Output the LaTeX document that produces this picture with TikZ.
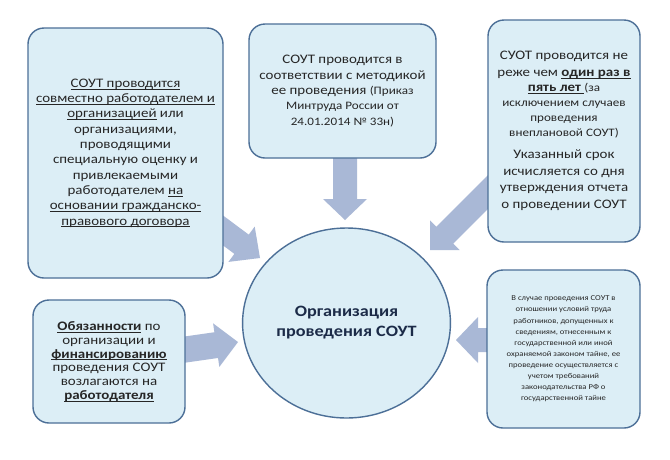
\documentclass[tikz,border=0pt]{standalone}
\usepackage{fontspec}
\setmainfont{Carlito}[FakeStretch=1.15]
\newcommand\ul[1]{\setbox0\hbox{#1}\rlap{\rule[-1.8pt]{\wd0}{0.6pt}}\box0\relax}
\usetikzlibrary{calc,shapes.geometric}
\definecolor{boxfill}{HTML}{DCEEF6}
\definecolor{boxline}{HTML}{4C6F97}
\definecolor{arrfill}{HTML}{A9B8D6}
\definecolor{txt}{HTML}{262626}
\definecolor{ctxt}{HTML}{1C2B48}
\newcommand\smt{\fontsize{11.4}{14}\selectfont}
\newcommand\fatarrow[5]{%
  \path ($(#2)!#5!(#1)$) coordinate (fab);
  \fill[arrfill] ($(#1)!#3!90:(#2)$) -- ($(fab)!#3!90:(#2)$) -- ($(fab)!#4!90:(#2)$) -- (#2)
    -- ($(fab)!#4!-90:(#2)$) -- ($(fab)!#3!-90:(#2)$) -- ($(#1)!#3!-90:(#2)$) -- cycle;}
\tikzset{
  box/.style={draw=boxline, line width=1.4pt, fill=boxfill, rounded corners=16pt,
    align=center, text=txt, inner sep=1pt, font=\fontsize{13}{15.3}\selectfont},
  hub/.style={ellipse, draw=boxline, line width=1.4pt, fill=boxfill, align=center,
    text=ctxt, font=\bfseries\fontsize{15.8}{20}\selectfont}
}
\begin{document}
\begin{tikzpicture}[x=1pt,y=-1pt]
\useasboundingbox (0,0) rectangle (670,459);
\fill[white] (0,0) rectangle (670,459);
% arrows
\coordinate (s1) at (205,217); \coordinate (t1) at (260,258);
\coordinate (s2) at (345,150); \coordinate (t2) at (345,220);
\coordinate (s3) at (500,180); \coordinate (t3) at (430,250);
\coordinate (s4) at (175,351); \coordinate (t4) at (238,342);
\coordinate (s5) at (495,340); \coordinate (t5) at (456,340);
\fatarrow{s1}{t1}{12pt}{22pt}{23pt}
\fatarrow{s2}{t2}{12pt}{22pt}{21pt}
\fatarrow{s3}{t3}{12pt}{21pt}{21pt}
\fatarrow{s4}{t4}{13pt}{22pt}{22pt}
\fatarrow{s5}{t5}{12pt}{23pt}{22pt}
% boxes
\node[box, minimum width=195pt, minimum height=250pt] (lt) at (125.5,153) {%
\ul{СОУТ проводится}\\
\ul{совместно работодателем и}\\
\ul{организацией} или\\
организациями,\\
проводящими\\
специальную оценку и\\
привлекаемыми\\
работодателем \ul{на}\\
\ul{основании гражданско-}\\
\ul{правового договора}};
\node[box, minimum width=187pt, minimum height=134pt] (tm) at (342.5,91) {%
СОУТ проводится в\\
соответствии с методикой\\
ее проведения {\smt (Приказ}\\
{\smt Минтруда России от}\\
{\smt 24.01.2014 № 33н)}};
\node[box, minimum width=152pt, minimum height=222pt, font=\fontsize{13}{16.6}\selectfont] (tr) at (564,131) {%
СУОТ проводится не\\
реже чем \ul{\textbf{один раз в}}\\[-1.5pt]
\ul{\textbf{пять лет}~}{\smt(за}\\[-1.6pt]
{\smt исключением случаев}\\[-1.6pt]
{\smt проведения}\\[-1.6pt]
{\smt внеплановой СОУТ)}\\[5.4pt]
Указанный срок\\
исчисляется со дня\\
утверждения отчета\\
о проведении СОУТ};
\node[box, minimum width=153pt, minimum height=158pt, font=\fontsize{7.5}{11.1}\selectfont] (br) at (563.5,349) {%
В случае проведения СОУТ в\\
отношении условий труда\\
работников, допущенных к\\
сведениям, отнесенным к\\
государственной или иной\\
охраняемой законом тайне, ее\\
проведение осуществляется с\\
учетом требований\\
законодательства РФ о\\
государственной тайне};
\node[box, minimum width=152pt, minimum height=123pt, font=\fontsize{13}{13.8}\selectfont] (bl) at (109,361.5) {%
\ul{\textbf{Обязанности}} по\\
организации и\\
\ul{\textbf{финансированию}}\\
проведения СОУТ\\
возлагаются на\\
\ul{\textbf{работодателя}}};
\node[hub, minimum width=207pt, minimum height=190pt] (c) at (346.5,323) {Организация\\проведения СОУТ};
\end{tikzpicture}
\end{document}
